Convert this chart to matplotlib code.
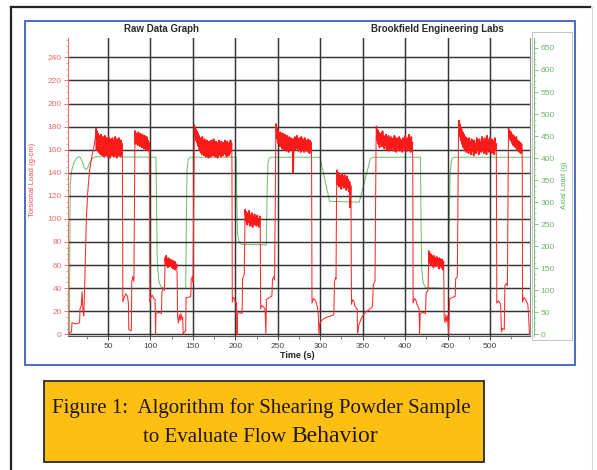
import numpy as np
import matplotlib
matplotlib.use('Agg')
import matplotlib.pyplot as plt
from matplotlib.patches import Rectangle
from matplotlib.lines import Line2D
from matplotlib.ticker import MultipleLocator

# ---------------- data ----------------
x_ticks = [50, 100, 150, 200, 250, 300, 350, 400, 450, 500]
left_ticks = list(range(0, 241, 20))
right_ticks = list(range(0, 651, 50))

# red trace (Torsional load): transition pieces (t, v)
seg_a_t = [3, 7, 7.5, 12, 16.5, 17, 18.5, 19.5, 20.5, 21.5, 23, 24.5, 26, 28, 30, 32, 34, 35.3]
seg_a_v = [1, 2, 10, 9, 10, 22, 25, 37, 20, 16, 55, 100, 122, 140, 150, 158, 165, 172]
seg_b_t = [67, 67.5, 69, 71, 73, 74, 74.5, 77.5, 78, 79, 80.5, 81.2]
seg_b_v = [150, 28, 32, 35, 33, 27, 4, 3, 45, 50, 46, 120]
seg_c_t = [98.8, 99.3, 100.5, 102, 104, 105.5, 106, 106.5, 110, 113, 113.5, 115, 116.5, 117]
seg_c_v = [150, 28, 32, 34, 31, 30, 0, 18, 19, 18, 37, 40, 38, 55]
seg_d_t = [131.4, 132, 133, 134, 135, 136, 137, 138, 138.5, 140, 141.5, 142, 145, 147.5, 148, 149.5, 150.2, 151]
seg_d_v = [52, 15, 10, 17, 12, 18, 13, 15, 0, 2, 3, 32, 32, 33, 48, 50, 45, 120]
seg_e_t = [196, 196.4, 197.5, 199, 200, 201.5, 202, 202.5, 205, 208, 208.5, 210.5, 211.1]
seg_e_v = [150, 28, 32, 31, 27, 28, 0, 18, 19, 18, 48, 52, 90]
seg_f_t = [229.4, 229.8, 231, 233, 235, 236, 236.6, 240, 243, 243.8, 245.5, 246.2, 247, 247.6]
seg_f_v = [90, 22, 25, 24, 22, 0, 30, 32, 33, 48, 50, 47, 110, 170]
seg_g_t = [289.8, 290.3, 292, 293.5, 295, 296.5, 297.5, 298.5, 299.5, 303, 308, 313, 316, 316.8, 318, 318.6, 319.2]
seg_g_v = [150, 27, 31, 30, 28, 24, 20, 0, 10, 13, 15, 16, 17, 46, 49, 48, 120]
seg_h_t = [336.3, 336.8, 338, 339.5, 341, 343.5, 344, 345.5, 349, 353, 357, 361.5, 362.5, 364.5, 365.2, 365.8]
seg_h_v = [110, 26, 30, 29, 24, 22, 0, 8, 15, 19, 21, 24, 43, 46, 120, 170]
seg_i_t = [409, 409.4, 411, 412.5, 414, 416.5, 417, 417.8, 421, 424, 424.8, 427, 427.6]
seg_i_v = [150, 27, 31, 30, 26, 22, 0, 18, 19, 18, 36, 38, 60]
seg_j_t = [445.5, 446, 447, 448, 449, 450, 451.3, 452.5, 456, 459, 459.5, 461.5, 462.3, 462.9]
seg_j_v = [55, 15, 10, 17, 11, 16, 0, 31, 32, 33, 48, 50, 120, 175]
seg_k_t = [507.5, 508, 510, 512.5, 513.5, 514.5, 516.8, 517.5, 519, 520.5, 521.2, 521.7]
seg_k_v = [150, 27, 29, 26, 2, 5, 4, 42, 44, 42, 120, 170]
seg_l_t = [538, 538.3, 540, 542, 544.5, 545.5, 546.5]
seg_l_v = [150, 28, 32, 30, 26, 15, 0]

# red trace: noisy plateaus (start, end, sampled values)
p1 = (36, 66.5, [178, 160, 176, 162, 174, 158, 172, 160, 170, 156, 173, 158, 168, 155, 171, 160, 169, 154,
                 172, 157, 167, 155, 170, 159, 168, 154, 171, 156, 166, 153, 169, 158, 167, 155, 170, 157,
                 165, 154, 168, 156, 171, 155, 166, 153, 169, 157, 167, 155, 170, 158, 166, 154, 168, 156, 165])
p2 = (81.8, 98.3, [176, 165, 174, 168, 173, 164, 175, 166, 172, 163, 174, 167, 171, 162, 173, 165, 170, 161,
                   172, 164, 169, 160, 171, 163, 168, 159, 166])
p3 = (117.3, 131, [66, 60, 68, 62, 65, 58, 66, 61, 64, 59, 65, 60, 63, 58, 64, 57, 62, 59, 63, 56, 61, 58, 60])
p4 = (151.8, 195.6, [181, 172, 178, 168, 176, 166, 174, 163, 172, 160, 170, 158, 169, 156, 171, 158, 167, 155,
                     169, 157, 166, 154, 168, 156, 165, 153, 167, 155, 164, 154, 168, 157, 166, 155, 169, 158,
                     165, 154, 167, 156, 164, 153, 166, 155, 168, 157, 165, 154, 167, 156, 163, 155, 166, 157,
                     168, 156, 165, 154, 167, 158, 164, 155, 166, 157, 168, 159, 165])
p5 = (211.5, 229, [108, 98, 106, 95, 104, 97, 107, 94, 103, 96, 105, 93, 102, 97, 104, 95, 101, 94, 103, 96,
                   100, 93, 102])
p6 = (248, 289.4, [182, 170, 179, 166, 176, 168, 174, 163, 175, 165, 172, 161, 174, 166, 171, 160, 173, 164,
                   170, 159, 172, 163, 169, 158, 171, 164, 168, 160, 170, 162, 167, 140, 169, 163, 171, 160,
                   168, 162, 172, 161, 169, 159, 170, 163, 168, 158, 171, 162, 169, 160, 167, 158, 170, 161,
                   168, 159, 166, 160, 169, 158, 167, 157, 168, 160, 166])
p7 = (319.6, 336, [142, 130, 140, 128, 138, 131, 137, 126, 139, 129, 136, 127, 138, 130, 135, 125, 137, 128,
                   134, 124, 132, 110, 128])
p8 = (366.3, 408.6, [180, 168, 177, 165, 175, 162, 173, 167, 174, 163, 176, 165, 172, 161, 171, 164, 173, 160,
                     170, 163, 172, 159, 169, 162, 171, 160, 168, 163, 170, 159, 172, 161, 169, 158, 170, 162,
                     168, 160, 171, 159, 169, 161, 167, 158, 170, 162, 168, 160, 172, 161, 169, 159, 170, 162,
                     173, 160, 168, 158, 171, 161, 166])
p9 = (427.9, 445.2, [72, 62, 70, 60, 69, 63, 67, 58, 68, 61, 66, 59, 67, 60, 65, 57, 66, 61, 64, 58, 65, 56, 63])
p10 = (463.3, 507.2, [185, 172, 182, 168, 178, 165, 175, 162, 173, 160, 171, 158, 170, 161, 168, 157, 170, 160,
                      167, 156, 169, 159, 166, 155, 168, 158, 165, 157, 170, 160, 167, 156, 169, 159, 166, 158,
                      171, 160, 168, 157, 170, 159, 167, 156, 172, 160, 168, 158, 170, 161, 166, 157, 169, 159,
                      167, 156, 170, 160, 165])
p11 = (522, 537.7, [178, 170, 176, 168, 175, 166, 173, 164, 172, 163, 170, 162, 171, 160, 168, 159, 167, 158,
                    166, 157, 165, 158])

# green trace (Axial load)
green_t = [3, 4.5, 5, 5.5, 7, 10, 13, 16, 18, 20, 22, 24, 26, 29, 32, 35, 106.5, 107.2, 108, 109.5,
           112, 116, 141.5, 142.3, 143, 144.5, 147, 201, 201.8, 202.5, 204, 207, 236.5, 237.5, 238.5, 240,
           242, 299.5, 301, 311, 346, 359, 362, 418, 418.8, 419.5, 421, 424, 451, 452, 453, 455, 457, 547]
green_v = [0, 0, 200, 340, 370, 390, 400, 403, 400, 390, 378, 374, 378, 392, 400, 403, 402, 300, 170, 125,
           108, 104, 104, 250, 370, 398, 402, 402, 300, 230, 212, 204, 203, 330, 390, 400,
           402, 402, 390, 302, 300, 398, 402, 402, 250, 150, 118, 106, 104, 250, 370, 398, 402, 402]

# ---------------- assemble red trace ----------------
pieces = [(seg_a_t, seg_a_v), p1, (seg_b_t, seg_b_v), p2, (seg_c_t, seg_c_v), p3, (seg_d_t, seg_d_v), p4,
          (seg_e_t, seg_e_v), p5, (seg_f_t, seg_f_v), p6, (seg_g_t, seg_g_v), p7, (seg_h_t, seg_h_v), p8,
          (seg_i_t, seg_i_v), p9, (seg_j_t, seg_j_v), p10, (seg_k_t, seg_k_v), p11, (seg_l_t, seg_l_v)]
red_t, red_v = [], []
plateaus = []
for pc in pieces:
    if len(pc) == 3:
        t0, t1, vals = pc
        tt = np.linspace(t0, t1, len(vals))
        red_t.extend(tt)
        red_v.extend(vals)
        plateaus.append((tt, vals))
    else:
        red_t.extend(pc[0])
        red_v.extend(pc[1])

# ---------------- figure ----------------
W, H = 597, 470
def fx(x): return x / W
def fy(y): return 1 - y / H

fig = plt.figure(figsize=(W / 100, H / 100), dpi=100)
fig.patch.set_facecolor('white')

# page frame lines
fig.add_artist(Line2D([fx(11), fx(11)], [fy(7), fy(472)], color='#222222', lw=1.6))
fig.add_artist(Line2D([fx(11), fx(590)], [fy(7), fy(7)], color='#222222', lw=1.6))
fig.add_artist(Line2D([fx(592), fx(592)], [fy(7), fy(470)], color='#d8d8d8', lw=0.8))

# blue chart frame
fig.add_artist(Rectangle((fx(25), fy(365)), fx(575) - fx(25), fy(21) - fy(365),
                         fill=False, edgecolor='#3d5fc4', lw=1.3))
# right axis box
fig.add_artist(Rectangle((fx(532), fy(340)), fx(572) - fx(532), fy(32) - fy(340),
                         fill=False, edgecolor='#c4c4c4', lw=0.7))

ax_l, ax_r, ax_t, ax_b = 68, 530, 38, 335.7
ax = fig.add_axes([fx(ax_l), fy(ax_b), fx(ax_r) - fx(ax_l), fy(ax_t) - fy(ax_b)])
ax.set_xlim(2.87, 547.1)
ax.set_ylim(-1.21, 256.8)

ax.set_xticks(x_ticks)
ax.xaxis.set_minor_locator(MultipleLocator(25))
ax.set_yticks(left_ticks)
ax.yaxis.set_minor_locator(MultipleLocator(5))
ax.grid(True, which='major', color='#333333', lw=1.05)
ax.set_axisbelow(True)

txt_font = 'Liberation Sans'
ax.tick_params(axis='x', which='major', direction='out', length=3, width=0.7, colors='#444444',
               labelsize=6, pad=2)
ax.tick_params(axis='x', which='minor', direction='out', length=2, width=0.6, colors='#666666')
ax.tick_params(axis='y', which='major', direction='out', length=3, width=0.7, colors='#f07070',
               labelsize=6, pad=1.5, labelcolor='#f06a6a')
ax.tick_params(axis='y', which='minor', direction='out', length=1.5, width=0.5, colors='#f08080')
for lab in ax.get_xticklabels() + ax.get_yticklabels():
    lab.set_fontfamily(txt_font)

ax.spines['top'].set_visible(False)
ax.spines['left'].set_color('#f07070')
ax.spines['left'].set_linewidth(0.8)
ax.spines['bottom'].set_color('#555555')
ax.spines['bottom'].set_linewidth(0.8)
ax.spines['right'].set_color('#888888')
ax.spines['right'].set_linewidth(0.8)

ax.plot(red_t, red_v, color='#ff2a2a', lw=0.75, zorder=3)
for tt, vals in plateaus:
    ax.plot(tt, vals, color='#ff1a1a', lw=1.25, zorder=4)

ax2 = ax.twinx()
ax2.set_ylim(-3.18, 672.6)
ax2.set_yticks(right_ticks)
ax2.yaxis.set_minor_locator(MultipleLocator(12.5))
for s in ['left', 'top', 'bottom']:
    ax2.spines[s].set_visible(False)
ax2.spines['right'].set_position(('outward', 3))
ax2.spines['right'].set_color('#7cc47c')
ax2.spines['right'].set_linewidth(0.8)
ax2.tick_params(axis='y', which='major', direction='out', length=3, width=0.7, colors='#7cc47c',
                labelsize=6, pad=1.5, labelcolor='#6cb86c')
ax2.tick_params(axis='y', which='minor', direction='out', length=1.5, width=0.5, colors='#8ccc8c')
for lab in ax2.get_yticklabels():
    lab.set_fontfamily(txt_font)
ax2.plot(green_t, green_v, color='#72c272', lw=0.75, zorder=2)
ax.set_zorder(ax2.get_zorder() + 1)
ax.patch.set_visible(False)
fig.patches.append(Rectangle((fx(ax_l), fy(ax_b)), fx(ax_r) - fx(ax_l), fy(ax_t) - fy(ax_b),
                             transform=fig.transFigure, facecolor='white', edgecolor='none', zorder=-5))

# chart texts
fig.text(fx(162), fy(29), 'Raw Data Graph', ha='center', va='center', fontsize=7, fontweight='bold',
         family=txt_font, color='#2a2a2a')
fig.text(fx(437), fy(29), 'Brookfield Engineering Labs', ha='center', va='center', fontsize=7,
         fontweight='bold', family=txt_font, color='#2a2a2a')
fig.text(fx(297), fy(355), 'Time (s)', ha='center', va='center', fontsize=6.5, fontweight='bold',
         family=txt_font, color='#222222')
fig.text(fx(33), fy(180), 'Torsional Load (g-cm)', ha='center', va='center', rotation=90, fontsize=5.5,
         family=txt_font, color='#f04a4a')
fig.text(fx(565), fy(185), 'Axial Load (g)', ha='center', va='center', rotation=90, fontsize=5.5,
         family=txt_font, color='#5cb05c')

# caption box
fig.add_artist(Rectangle((fx(44), fy(462)), fx(484) - fx(44), fy(381) - fy(462),
                         facecolor='#fdbf12', edgecolor='#2a2a2a', lw=1.3))
cap_font = 'Liberation Serif'
fig.text(fx(261), fy(413), 'Figure 1:  Algorithm for Shearing Powder Sample', ha='center', va='baseline',
         fontsize=15, family=cap_font, color='#221800')
fig.text(fx(286), fy(442), 'to Evaluate Flow', ha='right', va='baseline',
         fontsize=15, family=cap_font, color='#221800')
fig.text(fx(291), fy(442), 'Behavior', ha='left', va='baseline',
         fontsize=17, family=cap_font, color='#221800')

fig.savefig('out.png', dpi=100, facecolor='white')
